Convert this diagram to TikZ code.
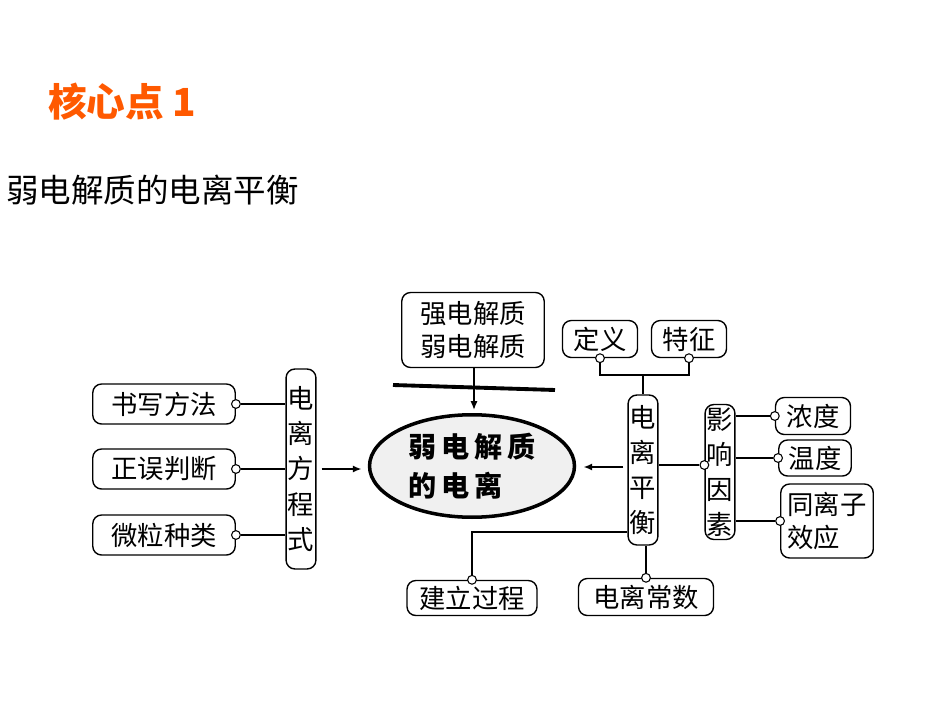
\documentclass[tikz,border=0pt]{standalone}
\usepackage{fontspec}
\setmainfont{Noto Sans CJK SC}
\usetikzlibrary{arrows.meta,shapes.geometric}
\begin{document}
\begin{tikzpicture}[x=0.02cm,y=-0.02cm,
  bx/.style={draw,rounded corners=5pt,line width=0.8pt,inner sep=1pt,font=\fontsize{15}{17}\selectfont},
  vbx/.style={bx,text width=15pt,align=center,font=\fontsize{15}{20}\selectfont},
  ln/.style={line width=0.8pt},
  dot/.style={circle,draw,fill=white,inner sep=0pt,minimum size=5pt,line width=0.6pt},
  arr/.style={line width=1.4pt,-{Latex[length=5pt,width=4pt]}}]
\useasboundingbox (0,0) rectangle (950,713);
\node[anchor=west,text=orange!70!red,font=\fontsize{22}{24}\selectfont\bfseries] (t) at (42,102) {核心点 1};
\node[anchor=west,font=\fontsize{18.5}{20}\selectfont] (st) at (0,190) {弱电解质的电离平衡};
% center
\node[draw,line width=2pt,fill=gray!12,ellipse,minimum width=4.1cm,minimum height=2.05cm,inner sep=0pt,align=left,font=\fontsize{16}{22}\selectfont\bfseries] (el) at (472,466) {弱\,电\,解\,质\\的\,电\,离};
\node[bx,minimum width=2.85cm,minimum height=1.5cm,align=center,font=\fontsize{15}{19}\selectfont] (se) at (473,330) {强电解质\\弱电解质};
\coordinate (l1) at (393,385); \coordinate (l2) at (555,390);
\draw[line width=2.2pt] (l1) -- (l2);
\coordinate (a1) at (474,368); \coordinate (a2) at (474,410);
\draw[line width=0.8pt,-{Latex[length=5pt,width=4pt]}] (a1) -- (a2);
% left
\node[vbx,minimum height=4cm] (fc) at (301,469) {电\\离\\方\\程\\式};
\draw[arr] (fc.east)++(5,0) coordinate (b1) (b1) -- ++(40,0) coordinate (b2);
\foreach \n/\t/\y in {s1/书写方法/404,s2/正误判断/469,s3/微粒种类/535}{
  \node[bx,minimum width=2.85cm,minimum height=0.8cm] (\n) at (164,\y) {\t};
  \node[dot] (\n d) at (\n.east) {};
  \draw[ln] (\n d) -- (\n d -| fc.west);
}
% right
\node[vbx,minimum height=3cm] (ph) at (643,470) {电\\离\\平\\衡};
\draw[arr] (ph.west)++(-4,-3) coordinate (c1) (c1) -- ++(-40,0) coordinate (c2);
\node[bx,minimum width=1.5cm,minimum height=0.74cm] (dy) at (600,339) {定义};
\node[bx,minimum width=1.5cm,minimum height=0.74cm] (tz) at (689,339) {特征};
\node[dot] (dyd) at (dy.south) {};
\node[dot] (tzd) at (tz.south) {};
\coordinate (j) at (643,375);
\draw[ln] (dyd) |- (j) -| (tzd);
\draw[ln] (j) -- (ph.north);
\node[vbx,minimum height=2.7cm] (yx) at (720,472) {影\\响\\因\\素};
\node[dot] (yxd) at (yx.west |- 0,465) {};
\draw[ln] (yxd) -- (yxd -| ph.east);
\node[bx,minimum width=1.5cm,minimum height=0.74cm] (nd) at (813,416) {浓度};
\node[bx,minimum width=1.45cm,minimum height=0.72cm] (wd) at (815,458) {温度};
\node[bx,minimum width=1.85cm,minimum height=1.48cm,align=left,font=\fontsize{15}{19}\selectfont] (tl) at (827,521) {同离子\\效应};
\foreach \n in {nd,wd,tl}{
  \node[dot] (\n d) at (\n.west) {};
  \draw[ln] (\n d) -- (\n d -| yx.east);
}
\node[bx,minimum width=2.6cm,minimum height=0.7cm] (jl) at (472,598) {建立过程};
\node[bx,minimum width=2.7cm,minimum height=0.74cm] (dl) at (646,597) {电离常数};
\node[dot] (jld) at (jl.north) {};
\node[dot] (dld) at (dl.north) {};
\draw[ln] (jld) |- (ph.west |- 0,532);
\draw[ln] (dld) -- (ph.south -| dld);
\end{tikzpicture}
\end{document}
